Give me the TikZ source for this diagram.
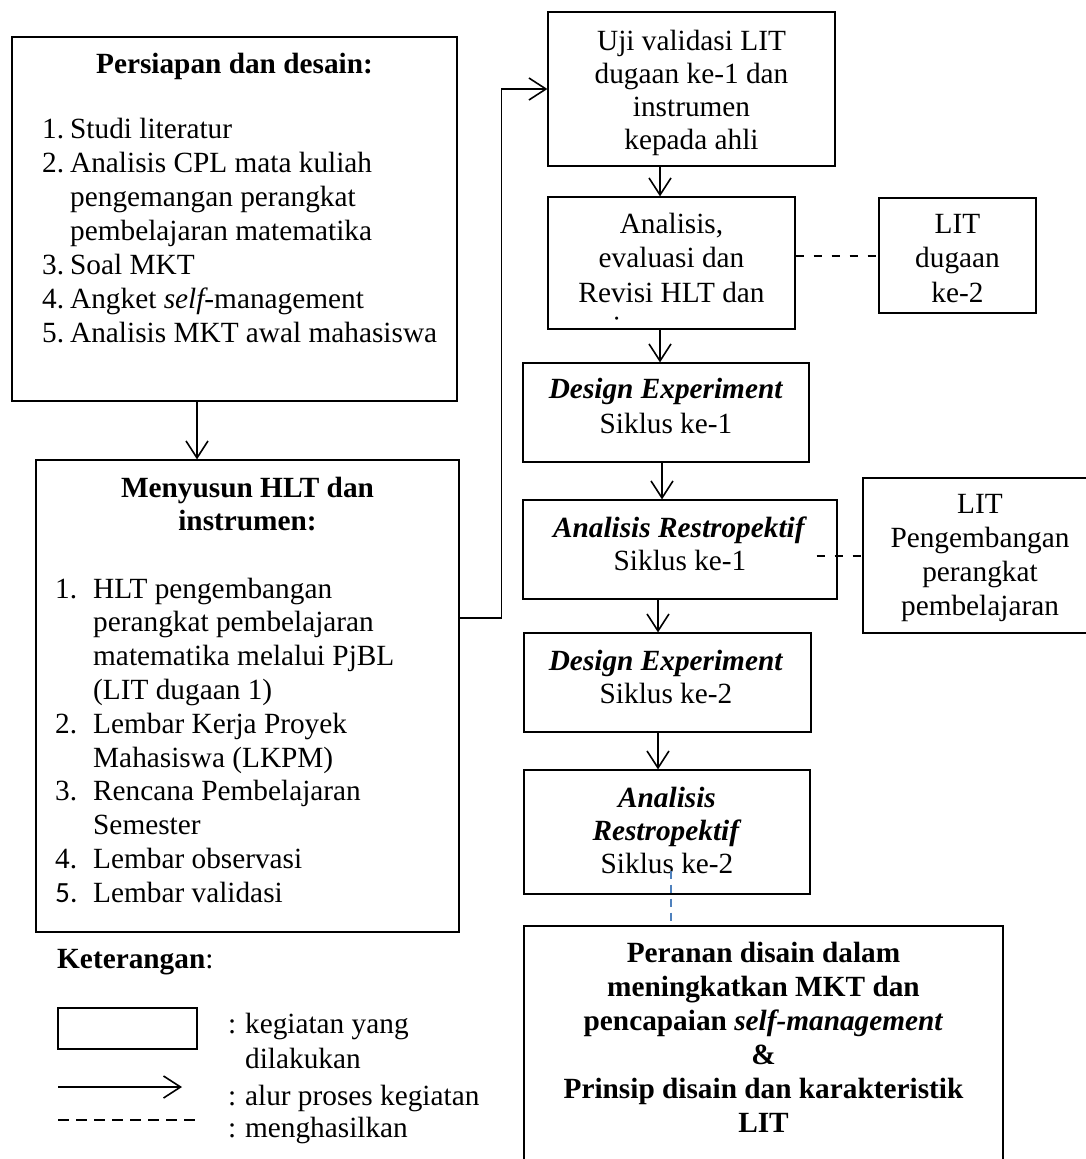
\documentclass[tikz,border=0pt]{standalone}
\usepackage{fontspec}
\setmainfont{Liberation Serif}
\newfontfamily\carlito{Carlito}
\usetikzlibrary{arrows.meta,calc}
\definecolor{wordblue}{RGB}{79,129,189}
\tikzset{
  box/.style={draw=black, line width=1.2pt, inner sep=0pt, fill=none},
  txt/.style={inner sep=0pt, anchor=base, align=center},
  flow/.style={line width=1.7pt, -{Straight Barb[length=17pt,width=22pt,line width=1.6pt]}},
  yields/.style={line width=2pt, dash pattern=on 8pt off 10pt},
  bluedash/.style={draw=wordblue, line width=2pt, dash pattern=on 8pt off 6pt},
}
\newcommand{\fs}[1]{\fontsize{29.3pt}{#1pt}\selectfont}
\begin{document}
\begin{tikzpicture}[x=1pt,y=-1pt, every node/.style={font=\fs{34}}]
\useasboundingbox (0,0) rectangle (1085,1159);
% boxes
\node[box, minimum width=445pt, minimum height=364pt] (A) at (234.5,219) {};
\node[box, minimum width=423pt, minimum height=472pt] (B) at (247.5,696) {};
\node[box, minimum width=287pt, minimum height=154pt] (C) at (691.5,89) {};
\node[box, minimum width=247pt, minimum height=132pt] (D) at (671.5,263) {};
\node[box, minimum width=157pt, minimum height=115pt] (E) at (957.5,255.5) {};
\node[box, minimum width=286pt, minimum height=99pt] (F) at (666,412.5) {};
\node[box, minimum width=314pt, minimum height=99pt] (G) at (680,549.5) {};
\node[box, minimum width=234pt, minimum height=155pt] (H) at (980,555.5) {};
\node[box, minimum width=287pt, minimum height=99pt] (I) at (667.5,682.5) {};
\node[box, minimum width=286pt, minimum height=124pt] (J) at (667,832) {};
\node[box, minimum width=479pt, minimum height=249pt] (K) at (763.5,1050.5) {};
\node[box, line width=2pt, minimum width=139pt, minimum height=41pt] (L) at (127.5,1028.5) {};

% texts (base anchor = baseline of the last line)
\node[txt] (tA) at (234.5,73) {\textbf{Persiapan dan desain:}};
\node[inner sep=0pt, anchor=base west] (lA) at (42,138) {\fs{34}\begin{tabular}[t]{@{}p{28pt}@{}l@{}}
1. & Studi literatur\\
2. & Analisis CPL mata kuliah\\
   & pengemangan perangkat\\
   & pembelajaran matematika\\
3. & Soal MKT\\
4. & Angket {\itshape self}-management\\
5. & Analisis MKT awal mahasiswa
\end{tabular}};
\node[txt, font=\fs{33}] (tB) at (247.5,530) {\textbf{Menyusun HLT dan}\\\textbf{instrumen:}};
\node[inner sep=0pt, anchor=base west] (lB) at (55,598) {\fs{33.8}\begin{tabular}[t]{@{}p{38pt}@{}l@{}}
1. & HLT pengembangan\\
   & perangkat pembelajaran\\
   & matematika melalui PjBL\\
   & (LIT dugaan 1)\\
2. & Lembar Kerja Proyek\\
   & Mahasiswa (LKPM)\\
3. & Rencana Pembelajaran\\
   & Semester\\
4. & Lembar observasi\\
{\carlito 5.} & Lembar validasi
\end{tabular}};
\node[txt, font=\fs{33}] (tC) at (691.5,149) {Uji validasi LIT\\dugaan ke-1 dan\\instrumen\\kepada ahli};
\node[txt, font=\fs{34.5}] (tD) at (671.5,302) {Analisis,\\evaluasi dan\\Revisi HLT dan};
\begin{scope}
\clip (600,300) rectangle (630,319);
\node[txt] (tD2) at (671.5,336.5) {instrumen};
\end{scope}
\node[txt, font=\fs{34.5}] (tE) at (957.5,302) {LIT\\dugaan\\ke-2};
\node[txt, font=\fs{35}] (tF) at (666,433) {\textbf{\textit{Design Experiment}}\\Siklus ke-1};
\node[txt, font=\fs{33}] (tG) at (680,570) {\textbf{\textit{Analisis Restropektif}}\\Siklus ke-1};
\node[txt, font=\fs{34}] (tH) at (980,615) {LIT\\Pengembangan\\perangkat\\pembelajaran};
\node[txt, font=\fs{33}] (tI) at (666,703) {\textbf{\textit{Design Experiment}}\\Siklus ke-2};
\node[txt, font=\fs{33}] (tJ) at (667,873) {\textbf{\textit{Analisis}}\\\textbf{\textit{Restropektif}}\\Siklus ke-2};
\node[txt, font=\bfseries\fs{34}] (tK) at (763.5,1132) {Peranan disain dalam\\meningkatkan MKT dan\\pencapaian \textit{self-management}\\\&\\Prinsip disain dan karakteristik\\LIT};

% legend
\node[inner sep=0pt, anchor=base west] (leg) at (57,968) {\textbf{Keterangan}:};
\node[inner sep=0pt, anchor=base west] (leg1) at (228,1033) {:\kern-1pt{} kegiatan yang};
\node[inner sep=0pt, anchor=base west] (leg1b) at (245,1068) {dilakukan};
\node[inner sep=0pt, anchor=base west] (leg2) at (228,1105) {:\kern-1pt{} alur proses kegiatan};
\node[inner sep=0pt, anchor=base west] (leg3) at (228,1137) {:\kern-1pt{} menghasilkan};
\coordinate (la1) at (58,1087);
\coordinate (la2) at (182,1087);
\coordinate (ld1) at (58,1120);
\coordinate (ld2) at (199,1120);
\draw[flow] (la1) -- (la2);
\draw[line width=2pt, dash pattern=on 11pt off 7pt] (ld1) -- (ld2);

% connectors
\draw[flow] (A.south -| 197,0) -- (B.north -| 197,0);
\draw[flow] ([yshift=78pt]B.east) -- ++(42,0) |- (C.west);
\draw[flow] (C.south -| 660,0) -- (D.north -| 660,0);
\draw[flow] (D.south -| 660,0) -- (F.north -| 660,0);
\draw[flow] (F.south -| 662,0) -- (G.north -| 662,0);
\draw[flow] (G.south -| 658,0) -- (I.north -| 658,0);
\draw[flow] (I.south -| 658,0) -- (J.north -| 658,0);
\draw[yields] (D.east |- E.west) -- (E.west);
\draw[yields] ($(G.east |- H.west)+(-21,0)$) -- (H.west);
\draw[bluedash] ($(J.south -| 671,0)+(0,-24)$) -- (K.north -| 671,0);
\end{tikzpicture}
\end{document}
